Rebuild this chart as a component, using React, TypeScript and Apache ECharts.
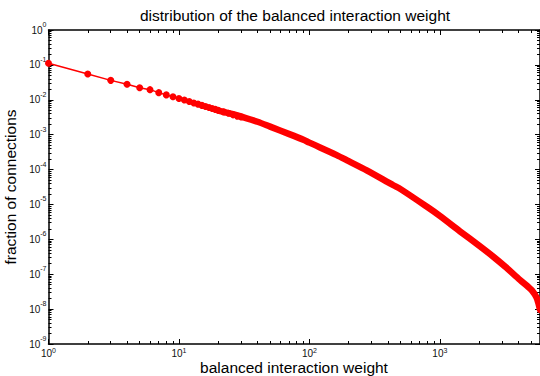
import React, { useEffect, useRef } from "react";
import * as echarts from "echarts";

// Discrete low-weight points (each drawn as a dot)
const dotWeights = [1, 2, 3, 4, 5, 6, 7, 8, 9, 10, 11, 12, 13, 14, 15, 16, 17, 18, 19, 20, 22, 24, 26, 28, 30];
const dotFractions = [
  0.111, 0.055, 0.036, 0.028, 0.022, 0.0195, 0.016, 0.0138, 0.0122, 0.0109,
  0.0098, 0.0089, 0.0081, 0.0075, 0.0069, 0.0064, 0.006, 0.0056, 0.0053, 0.005,
  0.0045, 0.0041, 0.0037, 0.0034, 0.0032,
];

// Dense tail (points so close they merge into a thick band)
const tailWeights = [20, 28, 40, 50, 71, 90, 100, 162, 200, 275, 440, 500, 792, 1000, 1426, 2000, 2565, 3162, 4110, 4700, 5060, 5500, 5690, 5860];
const tailFractions = [
  0.0049, 0.0036, 0.00234, 0.0017, 0.00102, 7.1e-4, 5.9e-4, 2.6e-4, 1.74e-4, 9.5e-5,
  3.55e-5, 2.75e-5, 8.7e-6, 4.7e-6, 1.7e-6, 6.6e-7, 3.2e-7, 1.66e-7, 6.9e-8, 4.5e-8,
  3.5e-8, 2.2e-8, 1.5e-8, 9.5e-9,
];

const xMajorTicks = [1, 10, 100, 1000];
const yMajorTicks = [1e-9, 1e-8, 1e-7, 1e-6, 1e-5, 1e-4, 1e-3, 1e-2, 1e-1, 1];
const xMin = 1;
const xMax = 5860;
const yMin = 1e-9;
const yMax = 1;

const titleText = "distribution of the balanced interaction weight";
const xName = "balanced interaction weight";
const yName = "fraction of connections";

function minorTicks(lo: number, hi: number): number[] {
  const out: number[] = [];
  for (let e = Math.floor(Math.log10(lo)); e <= Math.ceil(Math.log10(hi)); e++) {
    for (let k = 2; k <= 9; k++) {
      const v = k * Math.pow(10, e);
      if (v > lo && v < hi) out.push(v);
    }
  }
  return out;
}

const FONT = "Liberation Sans, Arial, Helvetica, sans-serif";

const labelFormatter = (v: number) => {
  const e = Math.round(Math.log10(v));
  return "10{sup|" + (e < 0 ? "-" + Math.abs(e) : String(e)) + "}";
};
const rich = {
  sup: { fontSize: 7, lineHeight: 7, verticalAlign: "top", fontFamily: FONT, color: "#111" },
};

export default function App() {
  const ref = useRef<HTMLDivElement>(null);
  useEffect(() => {
    if (!ref.current) return;
    const chart = echarts.init(ref.current, undefined, { renderer: "svg" });
    const xMinor = minorTicks(xMin, xMax);
    const yMinor = minorTicks(yMin, yMax);
    const lineStyle = { color: "#000", width: 1.5 };
    const tickStyle = { color: "#000", width: 1 };
    const baseX = { type: "log", logBase: 10, min: xMin, max: xMax, gridIndex: 0, splitLine: { show: false } };
    const baseY = { type: "log", logBase: 10, min: yMin, max: yMax, gridIndex: 0, splitLine: { show: false } };
    chart.setOption({
      animation: false,
      backgroundColor: "#fff",
      grid: { left: 48.5, right: 0, top: 30, bottom: 32, containLabel: false, outerBoundsMode: "none" },
      graphic: [
        {
          type: "text",
          x: 295,
          y: 15,
          style: {
            text: titleText,
            fontSize: 15.5,
            fontFamily: FONT,
            fill: "#000",
            textAlign: "center",
            textVerticalAlign: "middle",
          },
        },
        {
          type: "text",
          x: 294,
          y: 367,
          style: {
            text: xName,
            fontSize: 15.5,
            lineHeight: 13,
            fontFamily: FONT,
            fill: "#000",
            textAlign: "center",
            textVerticalAlign: "middle",
          },
        },
      ],
      xAxis: [
        {
          ...baseX,
          position: "bottom",
          axisLine: { show: true, lineStyle },
          axisTick: { show: true, inside: true, length: 5, customValues: xMajorTicks, lineStyle: tickStyle },
          axisLabel: {
            show: true,
            customValues: xMajorTicks,
            formatter: labelFormatter,
            margin: 3,
            fontSize: 10,
            lineHeight: 13,
            fontFamily: FONT,
            color: "#111",
            rich,
          },
        },
        {
          ...baseX,
          position: "bottom",
          axisLine: { show: false },
          axisTick: { show: true, inside: true, length: 3, customValues: xMinor, lineStyle: tickStyle },
          axisLabel: { show: false },
        },
        {
          ...baseX,
          position: "top",
          axisLine: { show: true, lineStyle },
          axisTick: { show: true, inside: true, length: 5, customValues: xMajorTicks, lineStyle: tickStyle },
          axisLabel: { show: false },
        },
        {
          ...baseX,
          position: "top",
          axisLine: { show: false },
          axisTick: { show: true, inside: true, length: 3, customValues: xMinor, lineStyle: tickStyle },
          axisLabel: { show: false },
        },
      ],
      yAxis: [
        {
          ...baseY,
          position: "left",
          axisLine: { show: true, lineStyle },
          axisTick: { show: true, inside: true, length: 5, customValues: yMajorTicks, lineStyle: tickStyle },
          axisLabel: {
            show: true,
            customValues: yMajorTicks,
            formatter: labelFormatter,
            margin: 2,
            fontSize: 10,
            lineHeight: 18,
            fontFamily: FONT,
            color: "#111",
            rich,
          },
          name: yName,
          nameLocation: "middle",
          nameGap: 25,
          nameRotate: 90,
          nameTextStyle: { fontSize: 15.5, fontFamily: FONT, color: "#000" },
        },
        {
          ...baseY,
          position: "left",
          axisLine: { show: false },
          axisTick: { show: true, inside: true, length: 3, customValues: yMinor, lineStyle: tickStyle },
          axisLabel: { show: false },
        },
        {
          ...baseY,
          position: "right",
          axisLine: { show: true, lineStyle },
          axisTick: { show: true, inside: true, length: 5, customValues: yMajorTicks, lineStyle: tickStyle },
          axisLabel: { show: false },
        },
        {
          ...baseY,
          position: "right",
          axisLine: { show: false },
          axisTick: { show: true, inside: true, length: 3, customValues: yMinor, lineStyle: tickStyle },
          axisLabel: { show: false },
        },
      ],
      series: [
        {
          type: "line",
          xAxisIndex: 0,
          yAxisIndex: 0,
          data: tailWeights.map((w, i) => [w, tailFractions[i]]),
          showSymbol: false,
          symbol: "none",
          smooth: 0.3,
          lineStyle: { color: "#ff0000", width: 6.5, cap: "round", join: "round" },
          z: 3,
        },
        {
          type: "line",
          xAxisIndex: 0,
          yAxisIndex: 0,
          data: dotWeights.map((w, i) => [w, dotFractions[i]]),
          symbol: "circle",
          symbolSize: 7,
          itemStyle: { color: "#ff0000" },
          lineStyle: { color: "#ff0000", width: 1.5 },
          z: 4,
        },
      ],
    });
    return () => chart.dispose();
  }, []);
  return (
    <div
      ref={ref}
      style={{ position: "fixed", left: 0, top: 0, width: 540, height: 376, background: "#fff" }}
    />
  );
}
